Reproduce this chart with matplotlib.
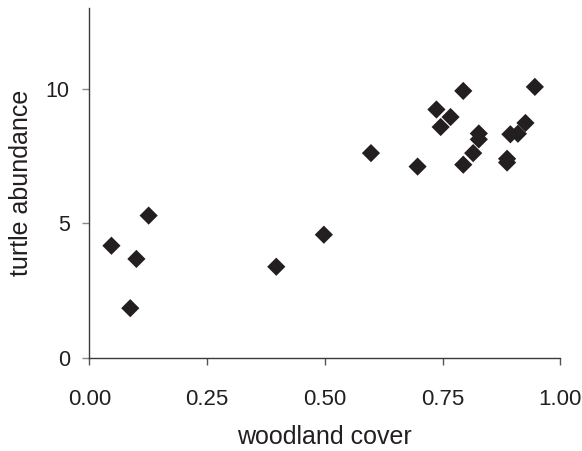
import matplotlib
matplotlib.use("Agg")
import matplotlib.pyplot as plt

# data
woodland_cover = [0.047, 0.087, 0.100, 0.126, 0.397, 0.498, 0.598, 0.697,
                  0.737, 0.746, 0.767, 0.794, 0.794, 0.815, 0.827, 0.827,
                  0.887, 0.887, 0.894, 0.910, 0.926, 0.946]
turtle_abundance = [4.17, 1.85, 3.68, 5.29, 3.39, 4.58, 7.61, 7.11,
                    9.23, 8.58, 8.95, 9.92, 7.18, 7.61, 8.34, 8.12,
                    7.40, 7.26, 8.31, 8.33, 8.73, 10.07]
x_ticks = [0.0, 0.25, 0.5, 0.75, 1.0]
x_tick_labels = ["0.00", "0.25", "0.50", "0.75", "1.00"]
y_ticks = [0, 5, 10]
y_tick_labels = ["0", "5", "10"]

plt.rcParams['font.family'] = ['Liberation Sans', 'DejaVu Sans']
text_col = "#231f20"

fig = plt.figure(figsize=(5.82, 4.51), dpi=100)
ax = fig.add_axes([89.3 / 582, (451 - 358) / 451, (560.3 - 89.3) / 582, (358 - 8) / 451])

ax.scatter(woodland_cover, turtle_abundance, marker='D', s=86,
           color=text_col, edgecolors='none', zorder=3)

ax.set_xlim(0, 1.0)
ax.set_ylim(0, 13.0)
ax.set_xticks(x_ticks)
ax.set_xticklabels(x_tick_labels)
ax.set_yticks(y_ticks)
ax.set_yticklabels(y_tick_labels)

for s in ['top', 'right']:
    ax.spines[s].set_visible(False)
for s in ['left', 'bottom']:
    ax.spines[s].set_color("#3a3a3a")
    ax.spines[s].set_linewidth(1.0)

ax.tick_params(axis='x', direction='out', length=5, width=1, color='#555555',
               labelsize=16, labelcolor=text_col, pad=17)
ax.tick_params(axis='y', direction='out', length=5, width=1, color='#888888',
               labelsize=15.5, labelcolor=text_col, pad=9)

ax.set_xlabel("woodland cover", fontsize=18, color=text_col, labelpad=11)
ax.set_ylabel("turtle abundance", fontsize=18, color=text_col, labelpad=9)

fig.savefig("out.png", dpi=100)
